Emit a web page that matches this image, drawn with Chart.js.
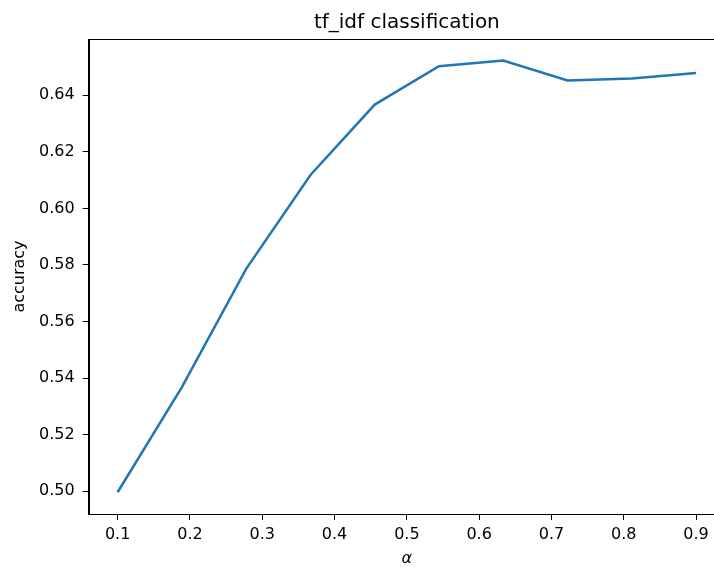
<!DOCTYPE html>
<html>
<head>
<meta charset="utf-8">
<script src="https://cdn.jsdelivr.net/npm/chart.js@4"></script>
<style>
  html, body { margin: 0; padding: 0; background: #fff; overflow: hidden; }
  #wrap { position: relative; width: 740px; height: 567px; }
</style>
</head>
<body>
<div id="wrap"><canvas id="chart" width="740" height="567"></canvas></div>
<script>
// alpha values on the x axis and the accuracy reached at each
const alphas = [0.1, 0.1889, 0.2778, 0.3667, 0.4556, 0.5444, 0.6333, 0.7222, 0.8111, 0.9];
const accuracy = [0.4996, 0.5368, 0.5786, 0.6118, 0.6367, 0.6503, 0.6523, 0.6452, 0.6459, 0.6479];

const xTicks = [0.1, 0.2, 0.3, 0.4, 0.5, 0.6, 0.7, 0.8, 0.9];
const yTicks = [0.50, 0.52, 0.54, 0.56, 0.58, 0.60, 0.62, 0.64];

const titleText = 'tf_idf classification';
const FONT = "'DejaVu Sans', sans-serif";

// full frame around the axes plus the title, drawn matplotlib style
const framePlugin = {
    id: 'frame',
    afterDraw(chart) {
        const { ctx, chartArea: a } = chart;
        ctx.save();
        ctx.strokeStyle = '#000';
        ctx.lineWidth = 1;
        ctx.strokeRect(Math.round(a.left) + 0.5, Math.round(a.top) + 0.5,
            Math.round(a.right - a.left), Math.round(a.bottom - a.top));
        ctx.fillStyle = '#000';
        ctx.font = '20px ' + FONT;
        ctx.textAlign = 'center';
        ctx.textBaseline = 'alphabetic';
        ctx.fillText(titleText, (a.left + a.right) / 2, 28);
        ctx.restore();
    }
};

const ctx = document.getElementById('chart').getContext('2d');
new Chart(ctx, {
    type: 'line',
    data: {
        datasets: [{
            data: alphas.map((a, i) => ({ x: a, y: accuracy[i] })),
            borderColor: '#1f77b4',
            borderWidth: 2.5,
            pointRadius: 0,
            tension: 0,
            fill: false
        }]
    },
    options: {
        responsive: false,
        animation: false,
        layout: { padding: { left: 0, top: 39, right: 15, bottom: 0 } },
        plugins: {
            legend: { display: false },
            tooltip: { enabled: false },
            title: { display: false }
        },
        scales: {
            x: {
                type: 'linear',
                min: 0.06,
                max: 0.94,
                afterBuildTicks: s => { s.ticks = xTicks.map(v => ({ value: v })); },
                afterFit: s => { s.height = 53; },
                grid: { drawOnChartArea: false, drawTicks: true, tickLength: 6, color: '#000' },
                border: { display: true, color: '#000', width: 1 },
                ticks: {
                    color: '#000',
                    padding: 5,
                    maxRotation: 0,
                    font: { family: FONT, size: 16 },
                    callback: v => v.toFixed(1)
                },
                title: {
                    display: true,
                    text: 'α',
                    color: '#000',
                    padding: { top: 0, bottom: 0 },
                    font: { family: FONT, size: 16, style: 'italic', lineHeight: 1 }
                }
            },
            y: {
                type: 'linear',
                min: 0.4919,
                max: 0.6599,
                afterBuildTicks: s => { s.ticks = yTicks.map(v => ({ value: v })); },
                afterFit: s => { s.width = 88.7; },
                grid: { drawOnChartArea: false, drawTicks: true, tickLength: 6, color: '#000' },
                border: { display: true, color: '#000', width: 1 },
                ticks: {
                    color: '#000',
                    padding: 8,
                    font: { family: FONT, size: 16 },
                    callback: v => v.toFixed(2)
                },
                title: {
                    display: true,
                    text: 'accuracy',
                    color: '#000',
                    padding: { top: 12, bottom: 0 },
                    font: { family: FONT, size: 16, lineHeight: 1 }
                }
            }
        }
    },
    plugins: [framePlugin]
});
</script>
</body>
</html>
